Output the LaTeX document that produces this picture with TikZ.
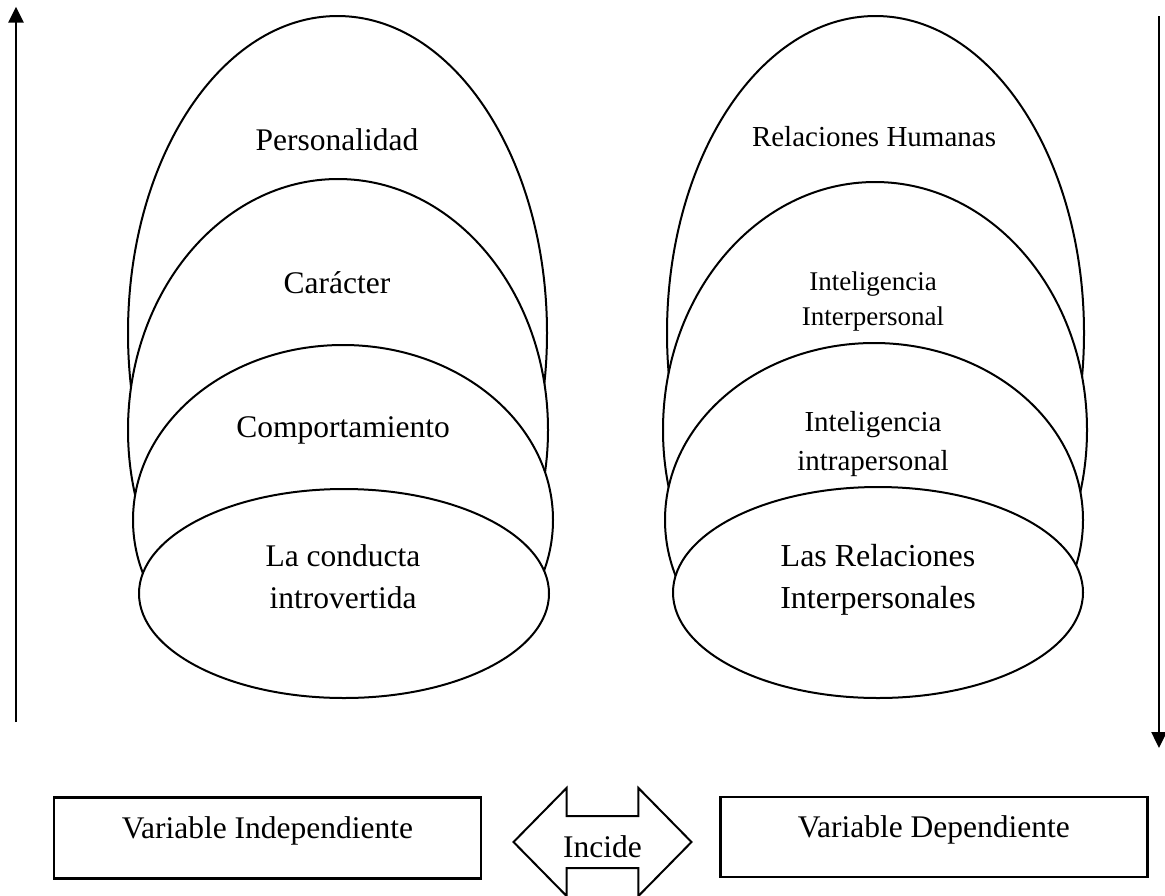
\documentclass[tikz,border=0pt]{standalone}
\usepackage{fontspec}
\setmainfont{Liberation Serif}
\usetikzlibrary{shapes,arrows.meta,positioning}

\tikzset{
  capa/.style={draw, fill=white, ellipse, line width=2pt, inner sep=0pt},
  lbl/.style={align=center, inner sep=0pt},
  grande/.style={font=\fontsize{31.5}{42}\selectfont},
  varbox/.style={draw, line width=2.5pt, minimum width=427pt, minimum height=81pt, inner sep=0pt},
  flecha/.style={line width=2.5pt, -{Triangle[length=16pt,width=15pt]}}
}

\begin{document}
\begin{tikzpicture}[x=1pt, y=-1pt]
    \useasboundingbox (0,0) rectangle (1165,895);

    % Independent variable
    \node[capa, minimum width=419pt, minimum height=634pt] (pers) at (337.5,333) {};
    \node[lbl, grande, anchor=base] (perstxt) at (337,150) {Personalidad};
    \node[capa, minimum width=420pt, minimum height=502pt] (car) at (338,430) {};
    \node[lbl, grande, anchor=base] (cartxt) at (337,293) {Carácter};
    \node[capa, minimum width=420pt, minimum height=350pt] (comp) at (343,520) {};
    \node[lbl, grande, anchor=base] (comptxt) at (343,437) {Comportamiento};
    \node[capa, minimum width=410pt, minimum height=209pt] (cond) at (344,593.5) {};
    \node[lbl, grande] (condtxt) at (343,577) {La conducta\\introvertida};

    % Dependent variable
    \node[capa, minimum width=417pt, minimum height=634pt] (rh) at (875.5,333) {};
    \node[lbl, font=\fontsize{29}{36}\selectfont, anchor=base] (rhtxt) at (874,146.7) {Relaciones Humanas};
    \node[capa, minimum width=424pt, minimum height=496pt] (inter) at (875,430) {};
    \node[lbl, font=\fontsize{27}{35}\selectfont] (intertxt) at (873,301) {Inteligencia\\Interpersonal};
    \node[capa, minimum width=418pt, minimum height=354pt] (intra) at (874,520) {};
    \node[lbl, font=\fontsize{29}{39}\selectfont] (intratxt) at (873,444) {Inteligencia\\intrapersonal};
    \node[capa, minimum width=410pt, minimum height=211pt] (rel) at (878,592.5) {};
    \node[lbl, font=\fontsize{32}{42}\selectfont] (reltxt) at (878,580) {Las Relaciones\\Interpersonales};

    % Side arrows
    \coordinate (izqa) at (16,722);
    \coordinate (izqb) at (16,6.7);
    \coordinate (dera) at (1159,16);
    \coordinate (derb) at (1159,748);
    \draw[flecha] (izqa) -- (izqb);
    \draw[flecha] (dera) -- (derb);

    % Variables
    \node[varbox] (vi) at (267.5,838) {};
    \node[lbl, grande, anchor=base] (vitxt) at (vi.center) {Variable Independiente};
    \node[varbox, minimum height=80pt] (vd) at (933.75,837) {};
    \node[lbl, grande, anchor=base] (vdtxt) at (vd.center) {Variable Dependiente};
    \node[draw, double arrow, line width=2pt, inner xsep=0pt, inner ysep=25pt,
          minimum height=178pt, double arrow head extend=28pt,
          double arrow tip angle=91] (incide) at (602.5,842) {};
    \node[lbl, grande, anchor=base] (incidetxt) at ([yshift=-15pt]incide.center) {Incide};
\end{tikzpicture}
\end{document}
